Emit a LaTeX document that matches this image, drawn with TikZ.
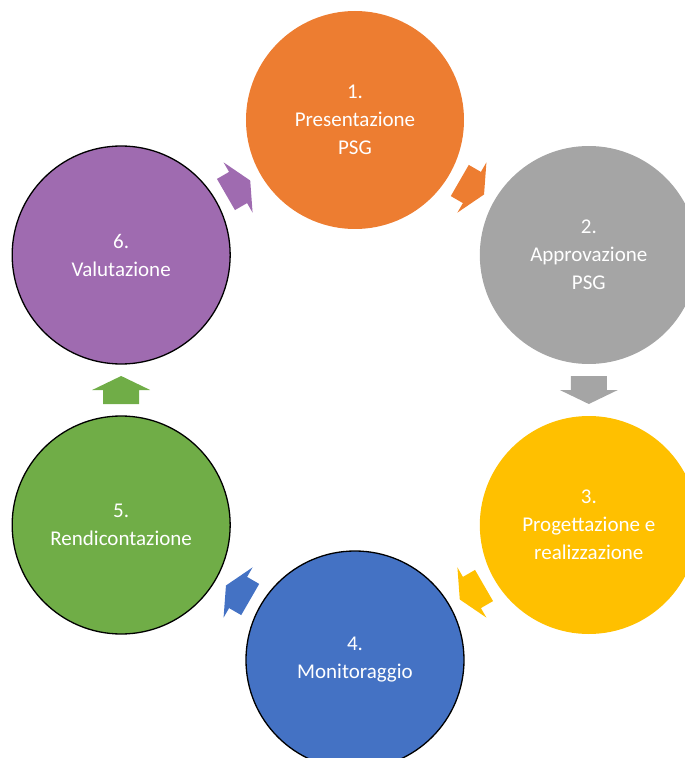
\documentclass[tikz,border=0pt]{standalone}
\usepackage{fontspec}
\setmainfont{Carlito}
\usetikzlibrary{calc}

\definecolor{phaseorange}{HTML}{ED7D31}
\definecolor{phasegray}{HTML}{A5A5A5}
\definecolor{phaseyellow}{HTML}{FFC000}
\definecolor{phaseblue}{HTML}{4472C4}
\definecolor{phasegreen}{HTML}{70AD47}
\definecolor{phasepurple}{HTML}{9F6BB0}

\begin{document}
\begin{tikzpicture}[x=1pt,y=1pt,
                    phase/.style={circle,minimum size=218pt,inner sep=0pt,
                                  align=center,text=white,
                                  font=\fontsize{21}{28}\selectfont},
                    ring/.style={draw=black,line width=1.3pt},
                    cycarrow/.pic={\path[pic actions] (-14,-18) -- (0,-18) -- (0,-29)
                                     -- (14,0) -- (0,29) -- (0,18) -- (-14,18) -- cycle;}]

  \useasboundingbox (-355,-368) rectangle (330,390);

  % the six phases, clockwise from the top
  \node[phase,fill=phaseorange]      (P) at (90:270)  {1.\\Presentazione\\PSG};
  \node[phase,fill=phasegray]        (A) at (30:270)  {2.\\Approvazione\\PSG};
  \node[phase,fill=phaseyellow]      (R) at (-30:270) {3.\\Progettazione e\\realizzazione};
  \node[phase,ring,fill=phaseblue]   (M) at (-90:270) {4.\\Monitoraggio};
  \node[phase,ring,fill=phasegreen]  (D) at (210:270) {5.\\Rendicontazione};
  \node[phase,ring,fill=phasepurple] (V) at (150:270) {6.\\Valutazione};

  % block arrows half way between neighbours
  \pic[fill=phaseorange,rotate=-30]  at ($(P)!.5!(A)$) {cycarrow};
  \pic[fill=phasegray,rotate=-90]    at ($(A)!.5!(R)$) {cycarrow};
  \pic[fill=phaseyellow,rotate=-150] at ($(R)!.5!(M)$) {cycarrow};
  \pic[fill=phaseblue,rotate=150]    at ($(M)!.5!(D)$) {cycarrow};
  \pic[fill=phasegreen,rotate=90]    at ($(D)!.5!(V)$) {cycarrow};
  \pic[fill=phasepurple,rotate=30]   at ($(V)!.5!(P)$) {cycarrow};
\end{tikzpicture}
\end{document}
